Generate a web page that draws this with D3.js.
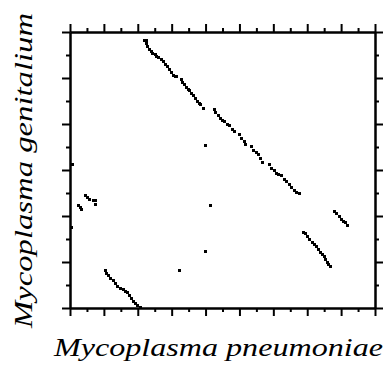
<!DOCTYPE html>
<html>
<head>
<meta charset="utf-8">
<script src="https://cdn.jsdelivr.net/npm/d3@7"></script>
<style>
  body { margin: 0; background: #fff; }
</style>
</head>
<body>
<div id="dotplot"></div>
<script>
// match positions, kb: [M. pneumoniae, M. genitalium]
var segA = [[219,581],[225,581],[226,574],[229,568],[234,563],[241,557],[243,554],[253,552],[256,547],[261,544],
  [269,541],[275,536],[282,530],[288,525],[295,519],[300,512],[305,505],[310,503],[315,503],[328,497],[333,490],
  [337,485],[344,479],[349,476],[354,472],[359,467],[364,461],[369,456],[375,450],[381,445],[386,442],[394,434]];
var segB = [[426,432],[430,425],[438,418],[443,413],[451,408],[457,405],[465,400],[472,396],[479,389],[485,384],
  [499,377],[507,369],[514,362],[519,355],[536,351],[541,342],[549,338],[556,333],[561,324],[568,316],[588,311],
  [595,304],[603,298],[610,293],[615,290],[625,287],[633,280],[639,275],[647,268],[654,261],[662,256],[669,251],[676,248]];
var segC = [[780,210],[787,205],[794,199],[802,193],[808,188],[812,185],[818,179]];
var segD = [[689,165],[695,163],[701,156],[708,150],[715,143],[721,138],[727,133],[733,127],[738,120],[745,116],
  [751,111],[754,105],[760,99],[764,94],[770,91]];
var segE = [[105,82],[108,75],[113,70],[120,65],[128,60],[133,54],[141,47],[148,43],[157,40],[164,36],[170,33],
  [177,27],[182,20],[187,15],[194,9],[200,5],[207,2]];
var cluster = [[46,244],[51,240],[57,235],[69,234],[74,234],[74,226],[25,223],[31,219],[34,215]];
var singles = [[7,313],[3,176],[401,353],[415,223],[401,122],[322,82]];

var xMajor = d3.range(0, 901, 100);
var xMinor = d3.range(50, 900, 100);
var yMajor = d3.range(0, 601, 100);
var yMinor = d3.range(50, 600, 100);

var margin = {top: 32, right: 10, bottom: 59, left: 70},
    width = 305,
    height = 276;

var svg = d3.select("#dotplot").append("svg")
    .attr("width", 385).attr("height", 367);

var g = svg.append("g").attr("transform", "translate(" + margin.left + "," + margin.top + ")");

var x = d3.scaleLinear().domain([0, 900]).range([0, width]);
var y = d3.scaleLinear().domain([0, 600]).range([height, 0]);

// frame + ticks on all four sides, majors long, minors short
function addAxis(axisFn, scale, vals, size, transform) {
  var a = g.append("g")
    .attr("transform", transform)
    .call(axisFn(scale).tickValues(vals).tickSize(size).tickSizeOuter(0).tickFormat(""));
  a.selectAll("line").attr("stroke", "#000").attr("stroke-width", 2);
  a.select(".domain").attr("stroke", "#000").attr("stroke-width", 2);
  return a;
}
addAxis(d3.axisBottom, x, xMajor, 8, "translate(0," + height + ")");
addAxis(d3.axisBottom, x, xMinor, 4, "translate(0," + height + ")");
addAxis(d3.axisTop, x, xMajor, 8, "translate(0,0)");
addAxis(d3.axisTop, x, xMinor, 4, "translate(0,0)");
addAxis(d3.axisLeft, y, yMajor, 8, "translate(0,0)");
addAxis(d3.axisLeft, y, yMinor, 4, "translate(0,0)");
addAxis(d3.axisRight, y, yMajor, 8, "translate(" + width + ",0)");
addAxis(d3.axisRight, y, yMinor, 4, "translate(" + width + ",0)");

var pts = [].concat(segA, segB, segC, segD, segE, cluster, singles);
g.selectAll(".dot").data(pts).enter().append("rect")
  .attr("class", "dot")
  .attr("x", function (d) { return x(d[0]) - 1.5; })
  .attr("y", function (d) { return y(d[1]) - 1.5; })
  .attr("width", 3).attr("height", 3)
  .attr("fill", "#000")
  .attr("shape-rendering", "crispEdges");

// axis titles (the original lettering is wide, so stretch to its length)
var serif = "'Liberation Serif', 'Times New Roman', serif";
svg.append("text")
  .attr("x", 218.5).attr("y", 356)
  .attr("text-anchor", "middle")
  .attr("textLength", 329)
  .attr("lengthAdjust", "spacingAndGlyphs")
  .style("font-family", serif)
  .style("font-style", "italic")
  .style("font-size", "25px")
  .text("Mycoplasma pneumoniae");

svg.append("text")
  .attr("transform", "translate(32,170.5) rotate(-90)")
  .attr("text-anchor", "middle")
  .attr("textLength", 315)
  .attr("lengthAdjust", "spacingAndGlyphs")
  .style("font-family", serif)
  .style("font-style", "italic")
  .style("font-size", "25px")
  .text("Mycoplasma genitalium");
</script>
</body>
</html>
